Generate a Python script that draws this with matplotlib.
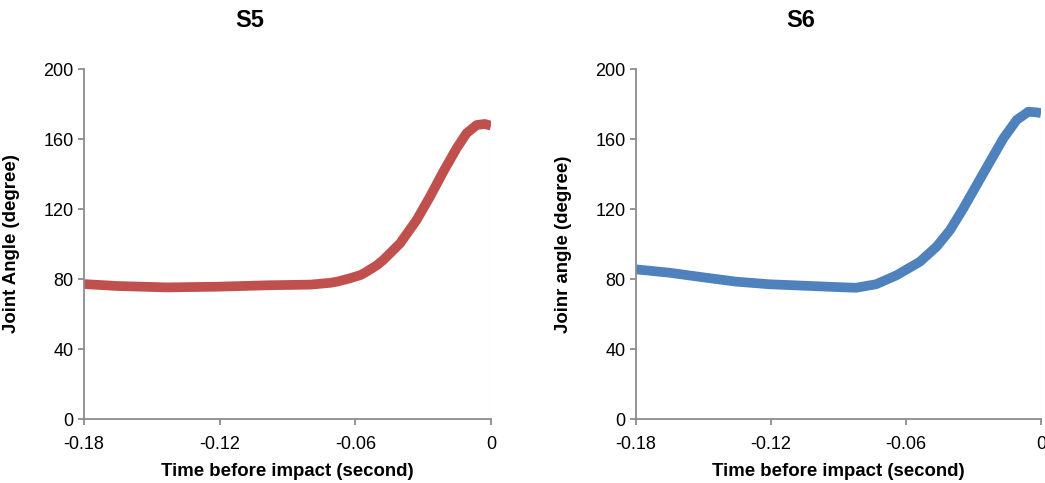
import matplotlib
matplotlib.use("Agg")
from matplotlib import pyplot as plt

plt.rcParams['font.family'] = ['Liberation Sans', 'DejaVu Sans']

# S5 joint angle vs time before impact
t_s5 = [-0.18, -0.1653, -0.1432, -0.1211, -0.0989, -0.0797, -0.0712, -0.068,
        -0.0624, -0.0576, -0.055, -0.0503, -0.0476, -0.0402, -0.0329, -0.027,
        -0.0211, -0.0152, -0.0108, -0.0063, -0.0027, 0.0]
a_s5 = [77.1, 76.0, 75.2, 75.6, 76.4, 76.8, 77.8, 78.5,
        80.4, 82.3, 84.2, 88.0, 90.9, 100.4, 113.7, 127.0,
        141.3, 154.7, 163.3, 168.0, 168.6, 167.6]

# S6
t_s6 = [-0.18, -0.1652, -0.1504, -0.1356, -0.1208, -0.1059, -0.0911, -0.0822,
        -0.0733, -0.0644, -0.057, -0.0538, -0.0464, -0.0404, -0.0345, -0.0286,
        -0.0227, -0.0167, -0.0108, -0.0056, -0.0019, 0.0]
a_s6 = [85.5, 83.6, 81.0, 78.5, 77.0, 76.2, 75.4, 75.0,
        77.0, 82.0, 87.5, 89.9, 98.5, 108.0, 120.4, 133.7,
        147.0, 160.4, 170.9, 175.6, 175.2, 174.8]

xticks = [-0.18, -0.12, -0.06, 0]
xticklabels = ["-0.18", "-0.12", "-0.06", "0"]
yticks = [0, 40, 80, 120, 160, 200]

W, H = 1045, 483
fig = plt.figure(figsize=(W / 100, H / 100), dpi=100)

panels = [
    ("S5", t_s5, a_s5, "#C0504D", "Joint Angle (degree)", 84, 491, 250, 20),
    ("S6", t_s6, a_s6, "#4F81BD", "Joinr angle (degree)", 636, 1041, 801, 572),
]

for title, t, a, color, ylab, x0, x1, tx, ylx in panels:
    ax = fig.add_axes([x0 / W, 1 - 419 / H, (x1 - x0) / W, (419 - 69) / H])
    ax.plot(t, a, color=color, lw=7, solid_capstyle='butt',
            solid_joinstyle='round')
    # thin faint drop line at x = 0
    ax.plot([0, 0], [0, a[-1]], color=color, lw=0.8, alpha=0.35)
    ax.set_xlim(-0.18, 0)
    ax.set_ylim(0, 200)
    ax.set_xticks(xticks)
    ax.set_xticklabels(xticklabels)
    ax.set_yticks(yticks)
    for s in ['top', 'right']:
        ax.spines[s].set_visible(False)
    for s in ['left', 'bottom']:
        ax.spines[s].set_color('#8C8C8C')
        ax.spines[s].set_linewidth(1.3)
    ax.tick_params(direction='out', length=4, width=1.3, color='#8C8C8C',
                   labelsize=13, labelcolor='black')
    ax.tick_params(axis='x', pad=8)
    ax.set_xlabel("Time before impact (second)", fontsize=13.4, fontweight='bold')
    ax.xaxis.set_label_coords(0.5, -0.125)
    ax.set_ylabel(ylab, fontsize=13.4, fontweight='bold')
    ax.yaxis.set_label_coords((ylx - x0) / (x1 - x0), 0.5)
    fig.text(tx / W, 1 - 20.5 / H, title, fontsize=17, fontweight='bold',
             ha='center', va='center')

fig.savefig("out.png", dpi=100)
